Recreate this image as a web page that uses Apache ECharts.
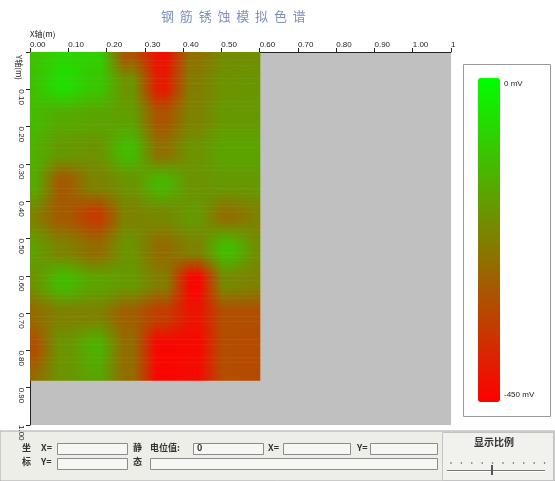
<!DOCTYPE html>
<html>
<head>
<meta charset="utf-8">
<script src="https://cdn.jsdelivr.net/npm/echarts@6/dist/echarts.min.js"></script>
<style>
  html, body { margin: 0; padding: 0; background: #fff; }
  #chart { width: 555px; height: 481px; }
</style>
</head>
<body>
<div id="chart"></div>
<script>
// measuring grid (m): measuring points
const xCenters = [0, 0.086, 0.171, 0.257, 0.343, 0.429, 0.514, 0.6];
const yCenters = [0, 0.088, 0.176, 0.264, 0.352, 0.44, 0.528, 0.616, 0.704, 0.792, 0.88];

// potential (mV), one row per y point, one value per x point
const potRows = [
  [-110, -75, -85, -300, -420, -250, -205, -200],
  [-110, -60, -100, -190, -400, -230, -190, -185],
  [-120, -150, -160, -170, -300, -220, -180, -180],
  [-140, -180, -190, -120, -250, -190, -160, -160],
  [-150, -290, -220, -190, -130, -190, -180, -180],
  [-220, -290, -340, -220, -210, -180, -250, -220],
  [-170, -220, -260, -190, -260, -220, -120, -200],
  [-190, -120, -160, -180, -230, -440, -210, -220],
  [-260, -220, -220, -280, -340, -415, -310, -310],
  [-310, -190, -140, -260, -440, -435, -315, -320],
  [-260, -190, -160, -260, -440, -430, -315, -320]
];

const xTickLabels = ['0.00', '0.10', '0.20', '0.30', '0.40', '0.50', '0.60', '0.70', '0.80', '0.90', '1.00', '1'];
const yTickLabels = ['', '0.10', '0.20', '0.30', '0.40', '0.50', '0.60', '0.70', '0.80', '0.90', '1.00'];
const potMin = -450;
const potMax = 0;
const colorRange = ['#ff0000', '#00ff00'];

// one patch between four neighbouring measuring points
const patches = [];
for (let j = 0; j < yCenters.length - 1; j++) {
  for (let i = 0; i < xCenters.length - 1; i++) {
    patches.push([xCenters[i], yCenters[j], xCenters[i + 1], yCenters[j + 1],
      potRows[j][i], potRows[j][i + 1], potRows[j + 1][i], potRows[j + 1][i + 1]]);
  }
}
const points = [];
potRows.forEach(function (row, j) {
  row.forEach(function (v, i) { points.push([xCenters[i], yCenters[j], v]); });
});

function potColor(v) {
  return echarts.color.lerp((v - potMin) / (potMax - potMin), colorRange);
}

// each point keeps its own colour close to it, blending across the rest
const FLAT = 0.15;
const STRIPS = 20;
function shadePatch(params, api) {
  const a = api.coord([api.value(0), api.value(1)]);
  const b = api.coord([api.value(2), api.value(3)]);
  const v00 = api.value(4), v10 = api.value(5), v01 = api.value(6), v11 = api.value(7);
  const x = Math.min(a[0], b[0]), w = Math.abs(b[0] - a[0]);
  const y = Math.min(a[1], b[1]), h = Math.abs(b[1] - a[1]);
  const kids = [];
  for (let s = 0; s < STRIPS; s++) {
    const t0 = (s + 0.5) / STRIPS;
    const t = Math.min(1, Math.max(0, (t0 - FLAT) / (1 - 2 * FLAT)));
    const cl = potColor(v00 + (v01 - v00) * t);
    const cr = potColor(v10 + (v11 - v10) * t);
    kids.push({
      type: 'rect',
      shape: { x: x, y: y + h * s / STRIPS, width: w + 0.6, height: h / STRIPS + 0.6 },
      style: { fill: new echarts.graphic.LinearGradient(0, 0, 1, 0, [
        { offset: 0, color: cl }, { offset: FLAT, color: cl },
        { offset: 1 - FLAT, color: cr }, { offset: 1, color: cr }]) }
    });
  }
  return { type: 'group', children: kids };
}

// invisible carrier so the colour bar belongs to the measured values
function noMark() { return null; }

const labelFont = 'Liberation Sans';
const cjk = 'Noto Sans CJK SC';

// bottom control panel
const panel = [];
function field(x, y, w, h) {
  panel.push({ type: 'rect', shape: { x: x, y: y, width: w, height: h },
    style: { fill: '#f6f6f2', stroke: '#8c8c8c', lineWidth: 1 } });
}
function label(t, x, y, size) {
  panel.push({ type: 'text', x: x, y: y,
    style: { text: t, fontSize: size || 9, fontFamily: cjk, fontWeight: 'bold', fill: '#333' } });
}
panel.push({ type: 'rect', shape: { x: 0, y: 431, width: 555, height: 50 },
  style: { fill: '#eeeee9', stroke: '#a8a8a8', lineWidth: 1 } });
label('坐', 22, 443); label('标', 22, 457);
label('X=', 41, 443); label('Y=', 41, 457);
field(57.5, 443.5, 70, 11); field(57.5, 458.5, 70, 11);
label('静', 133, 443); label('态', 133, 457);
label('电位值:', 150, 443);
field(193.5, 443.5, 70, 11);
label('0', 197, 443);
label('X=', 268, 443); field(283.5, 443.5, 67, 11);
label('Y=', 357, 443); field(370.5, 443.5, 67, 11);
field(150.5, 458.5, 287, 11);
panel.push({ type: 'rect', shape: { x: 442.5, y: 432.5, width: 111, height: 48 },
  style: { fill: '#f1f1ee', stroke: '#c4c4c4', lineWidth: 1 } });
label('显示比例', 474, 437, 10);
for (let k = 0; k < 10; k++) {
  panel.push({ type: 'circle', shape: { cx: 451 + k * 10.4, cy: 463, r: 0.8 }, style: { fill: '#555' } });
}
panel.push({ type: 'line', shape: { x1: 447, y1: 470.5, x2: 545, y2: 470.5 }, style: { stroke: '#777', lineWidth: 1 } });
panel.push({ type: 'line', shape: { x1: 447, y1: 471.5, x2: 545, y2: 471.5 }, style: { stroke: '#fff', lineWidth: 1 } });
panel.push({ type: 'rect', shape: { x: 491, y: 465, width: 2, height: 10 }, style: { fill: '#555' } });

const chart = echarts.init(document.getElementById('chart'), null, { renderer: 'canvas' });
chart.setOption({
  backgroundColor: '#ffffff',
  animation: false,
  title: {
    text: '钢  筋  锈  蚀  模  拟  色  谱',
    left: 156, top: 5,
    textStyle: { fontFamily: cjk, fontSize: 13, fontWeight: 'normal', color: '#7d92bd' }
  },
  grid: { left: 30, top: 52, width: 421, height: 373, show: true, backgroundColor: '#c0c0c0', borderWidth: 0 },
  xAxis: {
    type: 'value', position: 'top', min: 0, max: 1.1, interval: 0.1,
    axisLine: { show: true, onZero: false, lineStyle: { color: '#222', width: 1 } },
    axisTick: { show: true, length: 4, lineStyle: { color: '#222' } },
    axisLabel: {
      margin: 3, align: 'left', fontSize: 8, fontFamily: labelFont, color: '#222',
      formatter: function (v, i) { return xTickLabels[i]; }
    },
    splitLine: { show: false }
  },
  yAxis: {
    type: 'value', inverse: true, min: 0, max: 1.0, interval: 0.1,
    axisLine: { show: true, onZero: false, lineStyle: { color: '#222', width: 1 } },
    axisTick: { show: true, length: 4, lineStyle: { color: '#222' } },
    axisLabel: {
      rotate: -90, align: 'left', margin: 5, fontSize: 8, fontFamily: labelFont, color: '#222',
      formatter: function (v, i) { return yTickLabels[i]; }
    },
    splitLine: { show: false }
  },
  visualMap: {
    type: 'continuous', min: potMin, max: potMax, dimension: 2, seriesIndex: 1,
    calculable: false, showLabel: false, text: null,
    left: 478, top: 78, itemWidth: 22, itemHeight: 324, padding: 0,
    inRange: { color: colorRange }
  },
  graphic: [
    { type: 'rect', z: -1, shape: { x: 463.5, y: 64.5, width: 87, height: 352 },
      style: { fill: '#fff', stroke: '#9a9a9a', lineWidth: 1 } },
    { type: 'text', x: 504, y: 80, style: { text: '0 mV', fontSize: 8, fontFamily: labelFont, fill: '#222' } },
    { type: 'text', x: 504, y: 391, style: { text: '-450 mV', fontSize: 8, fontFamily: labelFont, fill: '#222' } },
    { type: 'text', x: 30, y: 30, style: { text: 'X轴(m)', fontSize: 8, fontFamily: cjk, fill: '#222' } },
    { type: 'text', x: 19, y: 55, rotation: -Math.PI / 2,
      style: { text: 'Y轴(m)', fontSize: 8, fontFamily: cjk, fill: '#222', align: 'left', verticalAlign: 'middle' } },
    { type: 'group', z: 20, children: panel }
  ],
  series: [
    { type: 'custom', renderItem: shadePatch, encode: { x: [0, 2], y: [1, 3] }, data: patches, z: 2 },
    { type: 'custom', renderItem: noMark, encode: { x: 0, y: 1 }, data: points, z: 1 }
  ]
});
</script>
</body>
</html>
